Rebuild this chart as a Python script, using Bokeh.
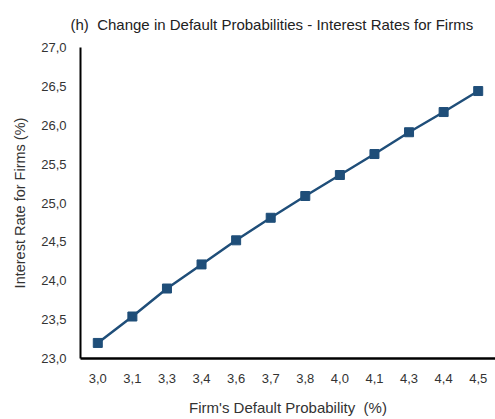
from bokeh.plotting import figure
from bokeh.models import FactorRange, Range1d, FixedTicker, Title
from bokeh.embed import file_html
from bokeh.resources import INLINE

# Data
default_prob_labels = ["3,0", "3,1", "3,3", "3,4", "3,6", "3,7", "3,8", "4,0", "4,1", "4,3", "4,4", "4,5"]
interest_rates = [23.20, 23.54, 23.90, 24.21, 24.52, 24.81, 25.09, 25.36, 25.63, 25.91, 26.17, 26.44]
y_ticks = [23.0, 23.5, 24.0, 24.5, 25.0, 25.5, 26.0, 26.5, 27.0]
y_tick_labels = ["23,0", "23,5", "24,0", "24,5", "25,0", "25,5", "26,0", "26,5", "27,0"]
title_text = "(h)\u00a0 Change in Default Probabilities - Interest Rates for Firms"

FONT = "Liberation Sans"
TXT = "#333333"
BLUE = "#1F4E79"

p = figure(
    width=495, height=419,
    x_range=FactorRange(*default_prob_labels, range_padding=0),
    y_range=Range1d(23, 27),
    output_backend="svg", toolbar_location=None,
    min_border_left=80, min_border_right=0, min_border_top=47, min_border_bottom=61,
)

p.title = Title(text=title_text, align="left", offset=-10, standoff=26,
                vertical_align="top", text_font=FONT, text_font_size="15px",
                text_font_style="normal", text_color="#222222")

p.line(default_prob_labels, interest_rates, line_color=BLUE, line_width=2.5)
p.scatter(default_prob_labels, interest_rates, marker="square", size=9,
          fill_color=BLUE, line_color=BLUE)

p.xgrid.visible = False
p.ygrid.visible = False
p.outline_line_color = None

for ax in (p.xaxis[0], p.yaxis[0]):
    ax.major_tick_line_color = None
    ax.minor_tick_line_color = None
    ax.major_tick_out = 0
    ax.major_tick_in = 0
    ax.minor_tick_out = 0
    ax.minor_tick_in = 0
    ax.axis_line_color = "black"
    ax.major_label_text_font = FONT
    ax.major_label_text_font_size = "13px"
    ax.major_label_text_color = TXT
    ax.axis_label_text_font = FONT
    ax.axis_label_text_font_style = "normal"
    ax.axis_label_text_color = TXT

p.xaxis.axis_line_width = 2.5
p.yaxis.axis_line_width = 2
p.xaxis.major_label_standoff = 15
p.xaxis.axis_label_standoff = 13
p.xaxis.axis_label_text_font_size = "15px"
p.xaxis.axis_label = "Firm's Default Probability\u00a0 (%)"

p.yaxis.ticker = FixedTicker(ticks=y_ticks)
p.yaxis.major_label_overrides = {t: l for t, l in zip(y_ticks, y_tick_labels)}
p.yaxis.major_label_standoff = 14
p.yaxis.axis_label_standoff = 10
p.yaxis.axis_label_text_font_size = "14.5px"
p.yaxis.axis_label = "Interest Rate for Firms (%)"

open("out.html", "w").write(file_html(p, INLINE))
